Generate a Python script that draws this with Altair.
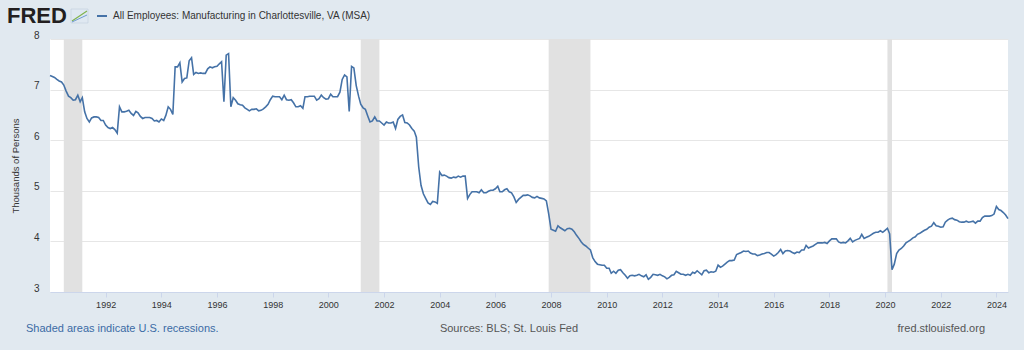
import altair as alt
import pandas as pd

# Monthly values, thousands of persons, starting 1990-01
v1990 = [7.28, 7.26, 7.24, 7.20, 7.17, 7.15, 7.09, 6.97, 6.87, 6.84, 6.79, 6.80]
v1991 = [6.89, 6.76, 6.84, 6.56, 6.43, 6.36, 6.44, 6.46, 6.46, 6.45, 6.39, 6.39]
v1992 = [6.30, 6.25, 6.23, 6.25, 6.21, 6.14, 6.66, 6.56, 6.56, 6.57, 6.59, 6.53]
v1993 = [6.49, 6.57, 6.54, 6.47, 6.43, 6.45, 6.45, 6.45, 6.43, 6.38, 6.39, 6.36]
v1994 = [6.42, 6.39, 6.49, 6.66, 6.61, 6.51, 7.45, 7.45, 7.53, 7.15, 7.22, 7.23]
v1995 = [7.57, 7.63, 7.30, 7.34, 7.32, 7.33, 7.32, 7.32, 7.41, 7.45, 7.43, 7.45]
v1996 = [7.46, 7.51, 7.55, 6.76, 7.68, 7.71, 6.66, 6.84, 6.79, 6.72, 6.70, 6.69]
v1997 = [6.64, 6.61, 6.58, 6.61, 6.61, 6.62, 6.58, 6.59, 6.62, 6.66, 6.71, 6.80]
v1998 = [6.87, 6.86, 6.86, 6.86, 6.80, 6.89, 6.80, 6.79, 6.80, 6.74, 6.66, 6.66]
v1999 = [6.68, 6.63, 6.86, 6.86, 6.87, 6.87, 6.87, 6.79, 6.82, 6.89, 6.84, 6.81]
v2000 = [6.82, 6.91, 6.86, 6.86, 6.86, 6.95, 7.20, 7.29, 7.25, 6.57, 7.46, 7.43]
v2001 = [7.08, 6.87, 6.71, 6.64, 6.61, 6.48, 6.36, 6.38, 6.46, 6.38, 6.38, 6.34]
v2002 = [6.30, 6.36, 6.34, 6.34, 6.36, 6.23, 6.41, 6.47, 6.50, 6.35, 6.34, 6.30]
v2003 = [6.23, 6.18, 6.06, 5.47, 5.11, 4.94, 4.85, 4.76, 4.73, 4.79, 4.78, 4.75]
v2004 = [5.37, 5.30, 5.31, 5.29, 5.26, 5.25, 5.27, 5.26, 5.29, 5.27, 5.29, 5.29]
v2005 = [4.85, 4.93, 4.98, 4.98, 4.98, 4.96, 5.02, 4.96, 4.96, 4.99, 5.01, 5.01]
v2006 = [5.04, 5.09, 4.98, 4.98, 5.02, 5.04, 4.98, 4.96, 4.88, 4.77, 4.83, 4.87]
v2007 = [4.91, 4.91, 4.92, 4.90, 4.87, 4.86, 4.89, 4.86, 4.85, 4.84, 4.80, 4.55]
v2008 = [4.24, 4.22, 4.20, 4.31, 4.27, 4.24, 4.21, 4.25, 4.26, 4.24, 4.19, 4.12]
v2009 = [4.06, 3.99, 3.94, 3.91, 3.87, 3.83, 3.68, 3.60, 3.55, 3.54, 3.53, 3.53]
v2010 = [3.47, 3.47, 3.37, 3.41, 3.37, 3.43, 3.44, 3.38, 3.33, 3.27, 3.32, 3.33]
v2011 = [3.32, 3.33, 3.35, 3.32, 3.30, 3.34, 3.25, 3.29, 3.35, 3.34, 3.33, 3.35]
v2012 = [3.32, 3.30, 3.26, 3.29, 3.33, 3.34, 3.41, 3.38, 3.35, 3.35, 3.33, 3.35]
v2013 = [3.33, 3.39, 3.37, 3.42, 3.38, 3.34, 3.42, 3.43, 3.38, 3.40, 3.39, 3.41]
v2014 = [3.53, 3.49, 3.51, 3.55, 3.59, 3.62, 3.62, 3.63, 3.74, 3.76, 3.78, 3.81]
v2015 = [3.80, 3.81, 3.77, 3.75, 3.75, 3.72, 3.73, 3.75, 3.76, 3.78, 3.78, 3.75]
v2016 = [3.71, 3.74, 3.78, 3.84, 3.76, 3.81, 3.82, 3.81, 3.78, 3.76, 3.79, 3.78]
v2017 = [3.83, 3.83, 3.92, 3.87, 3.89, 3.91, 3.94, 3.97, 3.97, 3.97, 3.98, 3.96]
v2018 = [4.01, 4.05, 4.05, 4.05, 3.99, 3.97, 3.98, 3.97, 4.01, 4.06, 3.99, 4.02]
v2019 = [4.04, 4.06, 4.14, 4.06, 4.08, 4.10, 4.13, 4.16, 4.18, 4.18, 4.21, 4.18]
v2020 = [4.22, 4.26, 4.15, 3.44, 3.55, 3.76, 3.83, 3.86, 3.91, 3.97, 4.00, 4.03]
v2021 = [4.07, 4.09, 4.14, 4.16, 4.19, 4.22, 4.24, 4.28, 4.30, 4.37, 4.31, 4.30]
v2022 = [4.28, 4.29, 4.38, 4.42, 4.45, 4.46, 4.43, 4.42, 4.39, 4.38, 4.38, 4.40]
v2023 = [4.38, 4.39, 4.40, 4.36, 4.40, 4.40, 4.47, 4.50, 4.50, 4.50, 4.51, 4.54]
v2024 = [4.69, 4.63, 4.61, 4.57, 4.52, 4.45]

values = (v1990 + v1991 + v1992 + v1993 + v1994 + v1995 + v1996 + v1997 + v1998
          + v1999 + v2000 + v2001 + v2002 + v2003 + v2004 + v2005 + v2006 + v2007
          + v2008 + v2009 + v2010 + v2011 + v2012 + v2013 + v2014 + v2015 + v2016
          + v2017 + v2018 + v2019 + v2020 + v2021 + v2022 + v2023 + v2024)

rec_start = ["1990-07-01", "2001-03-01", "2007-12-01", "2020-02-01"]
rec_end = ["1991-03-01", "2001-11-01", "2009-06-01", "2020-04-01"]

tick_years = list(range(1992, 2025, 2))
y_ticks = [3, 4, 5, 6, 7, 8]

series_title = "All Employees: Manufacturing in Charlottesville, VA (MSA)"

df = pd.DataFrame({
    "date": pd.date_range("1990-01-01", periods=len(values), freq="MS"),
    "value": values,
})
rec = pd.DataFrame({"start": pd.to_datetime(rec_start), "end": pd.to_datetime(rec_end)})

W, H = 958, 253
FONT = "Liberation Sans"

xscale = alt.Scale(domain=[alt.DateTime(year=1990, month=1, date=1),
                           alt.DateTime(year=2024, month=6, date=1)], nice=False)
yscale = alt.Scale(domain=[3, 8], nice=False, zero=False)

xaxis = alt.Axis(values=[alt.DateTime(year=y, month=1, date=1) for y in tick_years],
                 format="%Y", grid=False, ticks=True, tickSize=5, tickColor="#ccd6eb",
                 domain=True, domainColor="#ccd6eb", labelFontSize=9, labelColor="#333333",
                 labelPadding=3, labelFont=FONT, title=None, labelFlush=False)
yaxis = alt.Axis(values=y_ticks, grid=True, gridColor="#e6e6e6", ticks=False, domain=False,
                 labelFontSize=10, labelColor="#333333", labelPadding=11, labelFont=FONT,
                 labelBaseline="middle", labelOffset=-4,
                 title="Thousands of Persons", titleFontSize=9.5, titleFontWeight="normal",
                 titleColor="#333333", titleFont=FONT, titleX=-35, titleY=H / 2,
                 titleAngle=270, titleAlign="center", titleBaseline="middle")

shade = alt.Chart(rec).mark_rect(color="#e1e1e1").encode(
    x=alt.X("start:T", scale=xscale, axis=xaxis),
    x2="end:T",
    y=alt.value(0), y2=alt.value(H),
)

line = alt.Chart(df).mark_line(color="#4572a7", strokeWidth=1.6).encode(
    x=alt.X("date:T", scale=xscale, axis=xaxis),
    y=alt.Y("value:Q", scale=yscale, axis=yaxis),
)

one = alt.Data(values=[{"k": 1}])

def txt(text, x, y, size, color, align="left", weight="normal", font=FONT):
    return alt.Chart(one).mark_text(text=text, fontSize=size, color=color, align=align,
                                     baseline="middle", fontWeight=weight, font=font).encode(
        x=alt.value(x), y=alt.value(y))

logo = txt("FRED", -43, -23, 22, "#231f20", weight="bold")
icon_box = alt.Chart(one).mark_rect(color="#dfe8f1", stroke="#b8c8d8", strokeWidth=0.5).encode(
    x=alt.value(21), x2=alt.value(38), y=alt.value(-30), y2=alt.value(-16))
icon_l1 = alt.Chart(one).mark_rule(color="#7fb24a", strokeWidth=1.2).encode(
    x=alt.value(22), x2=alt.value(37), y=alt.value(-18), y2=alt.value(-28))
icon_l2 = alt.Chart(one).mark_rule(color="#6f9bd1", strokeWidth=1).encode(
    x=alt.value(22), x2=alt.value(37), y=alt.value(-17), y2=alt.value(-24))
leg_line = alt.Chart(one).mark_rule(color="#4572a7", strokeWidth=2).encode(
    x=alt.value(47), x2=alt.value(57), y=alt.value(-23))
leg_text = txt(series_title, 63, -23, 10, "#333333")

foot1 = txt("Shaded areas indicate U.S. recessions.", -24, 290, 11, "#3b6ba5")
foot2 = txt("Sources: BLS; St. Louis Fed", 459, 290, 11, "#555555", align="center")
foot3 = txt("fred.stlouisfed.org", 935, 290, 11, "#555555", align="right")

chart = alt.layer(shade, line, logo, icon_box, icon_l1, icon_l2, leg_line, leg_text,
                  foot1, foot2, foot3).properties(
    width=W, height=H,
    autosize=alt.AutoSizeParams(type="none"),
    padding={"left": 50, "top": 39, "right": 16, "bottom": 58},
    background="#e1e9f0",
).configure_view(fill="white", stroke=None)

chart.save("out.html", embed_options={"renderer": "svg", "actions": False})
